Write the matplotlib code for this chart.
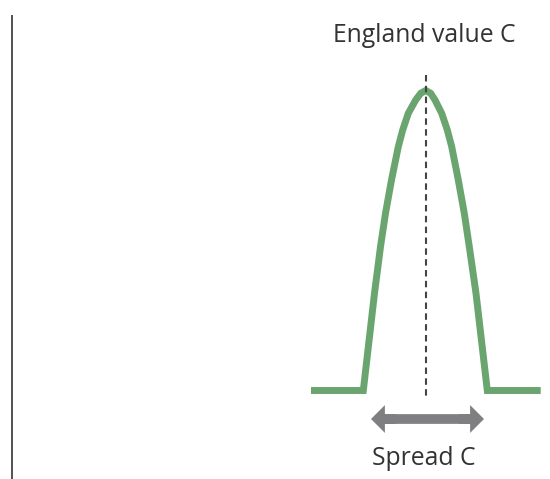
import matplotlib
matplotlib.use("Agg")
import matplotlib.pyplot as plt
from matplotlib.patches import FancyArrowPatch, ArrowStyle

# ---- data (in chart units) ----
curve_x = [311, 363.3, 374.5, 380.5, 385.5, 391.5, 398.3, 402.7, 408.3, 415.7, 420.7, 425.7,
           430.7, 435, 441.7, 447.3, 451.7, 458.3, 464.3, 469.3, 476, 487.3, 540.7]
curve_y = [390.5, 390.5, 293.3, 246.7, 213.3, 180, 146.7, 130, 113.3, 100, 93.3, 90.5,
           93.3, 100, 113.3, 130, 146.7, 180, 213.3, 246.7, 293.3, 390.5, 390.5]
england_value_x = 426
england_line_top = 75
england_line_bottom = 398
spread_start = 371
spread_end = 484
spread_y = 419
axis_x = 11.8
axis_top = 15
axis_bottom = 479
title_label = "England value C"
spread_label = "Spread C"

ARROW_COLOR = "#7f7f82"

fig = plt.figure(figsize=(5.5, 4.79), dpi=100)
ax = fig.add_axes([0, 0, 1, 1])
ax.set_xlim(0, 550)
ax.set_ylim(479, 0)
ax.axis("off")

# left vertical axis line
ax.plot([axis_x, axis_x], [axis_top, axis_bottom], color="#333333", lw=1.2,
        solid_capstyle="butt")

# distribution curve
ax.plot(curve_x, curve_y, color="#6aa56f", lw=5.0, solid_joinstyle="miter",
        solid_capstyle="butt")

# dashed England value line
ax.plot([england_value_x, england_value_x], [england_line_top, england_line_bottom],
        color="#444444", lw=1.5, linestyle=(0, (3.1, 2.1)), dash_capstyle="butt")

# spread double arrow: shaft line + two heads
ax.plot([spread_start + 10, spread_end - 10], [spread_y, spread_y],
        color=ARROW_COLOR, lw=7.0, solid_capstyle="butt")
style = ArrowStyle.Simple(head_length=10.0, head_width=20.0, tail_width=7.0)
for start, end in ((spread_start + 25, spread_start), (spread_end - 25, spread_end)):
    arr = FancyArrowPatch((start, spread_y), (end, spread_y), arrowstyle=style,
                          mutation_scale=1, color=ARROW_COLOR, lw=0,
                          shrinkA=0, shrinkB=0)
    ax.add_patch(arr)

ax.text(424, 41.7, title_label, ha="center", va="baseline", fontsize=17.8,
        family="Open Sans", color="#333333")
ax.text(424, 465.3, spread_label, ha="center", va="baseline", fontsize=17.8,
        family="Open Sans", color="#333333")

fig.savefig("out.png", dpi=100)
